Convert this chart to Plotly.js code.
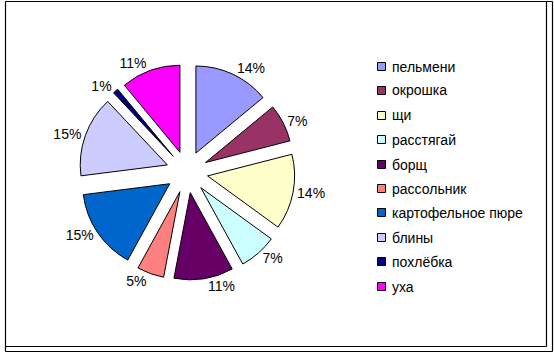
<!DOCTYPE html>
<html>
<head>
<meta charset="utf-8">
<script src="https://cdn.plot.ly/plotly-3.0.1.min.js"></script>
<style>html,body{margin:0;padding:0;background:#fff;}#chart{width:554px;height:353px;}</style>
</head>
<body>
<div id="chart"></div>
<script>
const labels = ['пельмени', 'окрошка', 'щи', 'расстягай', 'борщ', 'рассольник', 'картофельное пюре', 'блины', 'похлёбка', 'уха'];
const values = [14, 7, 14, 7, 11, 5, 15, 15, 1, 11];
const colors = ['#9999FF', '#993366', '#FFFFCC', '#CCFFFF', '#660066', '#FF8080', '#0066CC', '#CCCCFF', '#000080', '#FF00FF'];

const W = 554, H = 353;
const px = x => x / W;
const py = y => 1 - y / H;
const FONT = 'Liberation Sans, Arial, sans-serif';

const shapes = [];
const annotations = [];
// legend built from labels/colors
const legX = 377.5, legY0 = 66, legStep = 24.4, sq = 8;
labels.forEach((lab, i) => {
  const cy = Math.round(legY0 + i * legStep) + 0.5;
  shapes.push({type: 'rect', xref: 'paper', yref: 'paper',
    x0: px(legX), x1: px(legX + sq), y0: py(cy + sq / 2), y1: py(cy - sq / 2),
    fillcolor: colors[i], line: {color: '#000', width: 1}});
  annotations.push({xref: 'paper', yref: 'paper', x: px(legX + sq + 4), y: py(cy),
    xanchor: 'left', yanchor: 'middle', showarrow: false, text: lab,
    font: {family: FONT, size: 14, color: '#000'}});
});
// frame
const line = (x0, y0, x1, y1) => ({type: 'line', xref: 'paper', yref: 'paper',
  x0: px(x0), y0: py(y0), x1: px(x1), y1: py(y1), line: {color: '#000', width: 1.2}});
shapes.push(line(5.5, 1.5, 552.5, 1.5), line(5.5, 1.5, 5.5, 351.5), line(5.5, 351.5, 552.5, 351.5),
  line(552.5, 1.5, 552.5, 351.5), line(546.5, 1.5, 546.5, 346.5), line(5.5, 346.5, 546.5, 346.5));

const trace = {
  type: 'pie', labels: labels, values: values, sort: false, direction: 'clockwise', rotation: 0,
  marker: {colors: colors, line: {color: '#000', width: 1}},
  pull: values.map(() => 0.24),
  textinfo: 'percent', textposition: 'outside',
  texttemplate: '%{percent:.0%}',
  outsidetextfont: {family: FONT, size: 14, color: '#000'},
  domain: {x: [px(79), px(295)], y: [py(280), py(64)]},
  showlegend: false, hoverinfo: 'label+percent', automargin: false
};

Plotly.newPlot('chart', [trace], {
  width: W, height: H, margin: {l: 0, r: 0, t: 0, b: 0},
  paper_bgcolor: '#fff', plot_bgcolor: '#fff', showlegend: false,
  shapes: shapes, annotations: annotations,
  font: {family: FONT}
}, {staticPlot: true});
</script>
</body>
</html>
